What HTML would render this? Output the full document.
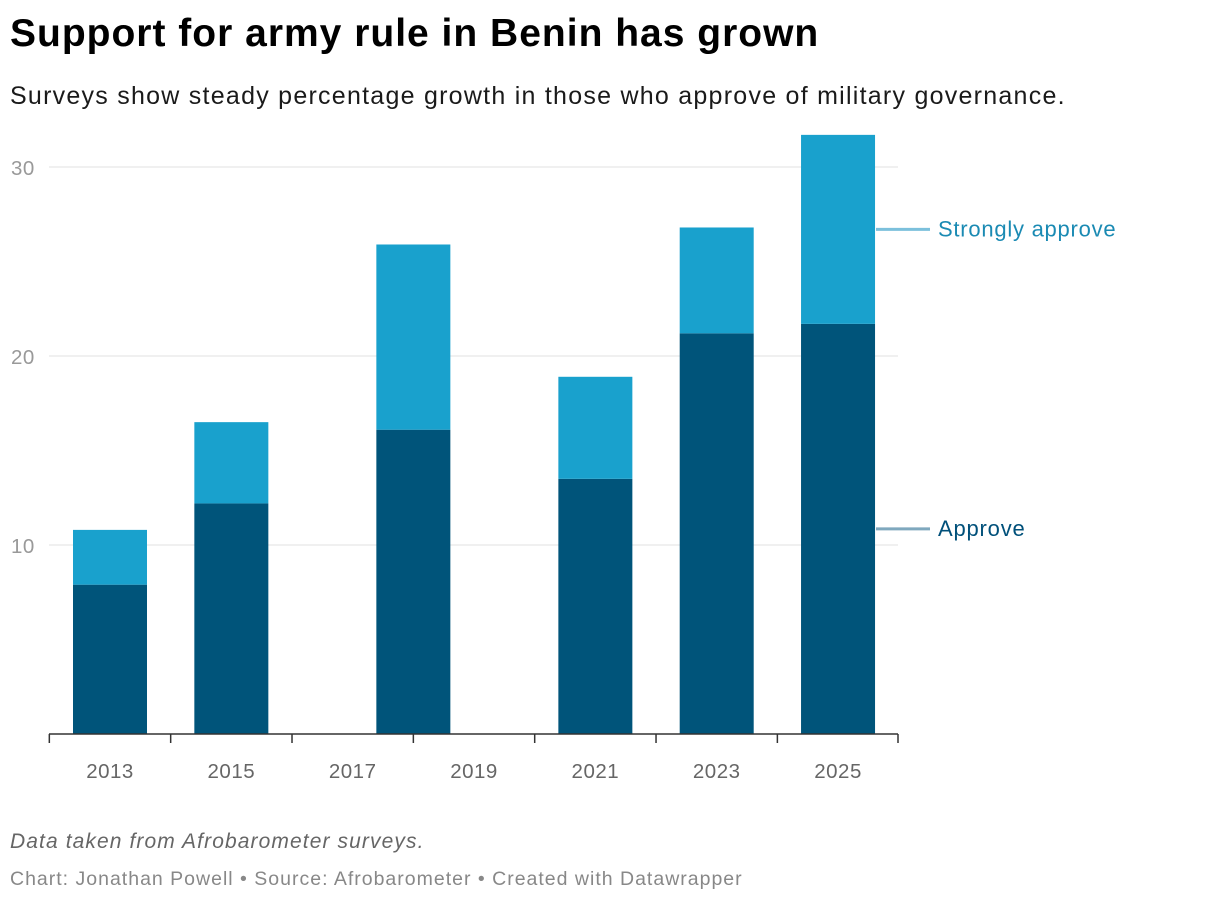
<!DOCTYPE html>
<html><head><meta charset="utf-8"><style>
body{margin:0;background:#fff;font-family:"Liberation Sans",sans-serif;}
#wrap{position:relative;width:1220px;height:904px;overflow:hidden;}
h1{position:absolute;left:10px;top:12px;margin:0;font-size:39px;font-weight:bold;color:#000;letter-spacing:1px;}
.sub{position:absolute;left:10px;top:82px;font-size:25px;color:#1a1a1a;letter-spacing:1.25px;}
.note{position:absolute;left:10px;top:830px;font-size:21px;font-style:italic;color:#666;letter-spacing:1.1px;}
.cred{position:absolute;left:10px;top:868px;font-size:19.5px;color:#888;letter-spacing:1px;}
svg{position:absolute;left:0;top:0;}
</style></head><body>
<div id="wrap">
<h1>Support for army rule in Benin has grown</h1>
<div class="sub">Surveys show steady percentage growth in those who approve of military governance.</div>
<svg id="chart" width="1220" height="904"></svg>
<div class="note">Data taken from Afrobarometer surveys.</div>
<div class="cred">Chart: Jonathan Powell • Source: Afrobarometer • Created with Datawrapper</div>
</div>
<script>
const years=[2013,2015,2018,2021,2023,2025];
const approve=[7.9,12.2,16.1,13.5,21.2,21.7];
const strongly=[2.9,4.3,9.8,5.4,5.6,10.0];
const yTicks=[10,20,30];
const xLabels=[2013,2015,2017,2019,2021,2023,2025];
const NS="http://www.w3.org/2000/svg";
const svg=document.getElementById('chart');
const y=v=>734-v*18.9;
const x=yr=>110+(yr-2013)*60.67;
function mk(t,a,txt){const e=document.createElementNS(NS,t);for(const k in a)e.setAttribute(k,a[k]);if(txt!=null)e.textContent=txt;svg.appendChild(e);return e;}
yTicks.forEach(v=>{
 const g=mk('line',{x1:49,x2:898,y1:y(v),y2:y(v),stroke:'#e0e0e0','stroke-width':1});
 
 
 const t=mk('text',{x:11,y:y(v)+8,'font-size':20.5,fill:'#999','letter-spacing':0.5},v);
 
 
});
years.forEach((yr,i)=>{
 const cx=x(yr);
 const a=mk('rect',{x:cx-37,y:y(approve[i]),width:74,height:y(0)-y(approve[i]),fill:'#00547a'});
 
 
 const s=mk('rect',{x:cx-37,y:y(approve[i]+strongly[i]),width:74,height:y(approve[i])-y(approve[i]+strongly[i]),fill:'#19a1cd'});
 
 
});
const ax=mk('line',{x1:49,x2:898,y1:734,y2:734,stroke:'#333','stroke-width':1.5});


xLabels.forEach((yr,i)=>{
 const tx=x(yr)-60.67;
 const tk=mk('line',{x1:tx,x2:tx,y1:734,y2:743,stroke:'#333','stroke-width':1.5});
 
 
 const t=mk('text',{x:x(yr),y:778,'font-size':20.5,fill:'#666','text-anchor':'middle','letter-spacing':0.5},yr);
 
 
});
const endTick=mk('line',{x1:898,x2:898,y1:734,y2:743,stroke:'#333','stroke-width':1.5});


const li=years.length-1;
const ys=y(approve[li]+strongly[li]/2), ya=y(approve[li]/2);
const l1=mk('line',{x1:876,x2:930,y1:ys,y2:ys,stroke:'#7cc0dc','stroke-width':3});


const t1=mk('text',{x:938,y:ys+7,'font-size':22,fill:'#1a8ab3','letter-spacing':0.75},'Strongly approve');


const l2=mk('line',{x1:876,x2:930,y1:ya,y2:ya,stroke:'#7fa8be','stroke-width':3});


const t2=mk('text',{x:938,y:ya+7,'font-size':22,fill:'#00507a','letter-spacing':0.8},'Approve');


</script>
</body></html>
